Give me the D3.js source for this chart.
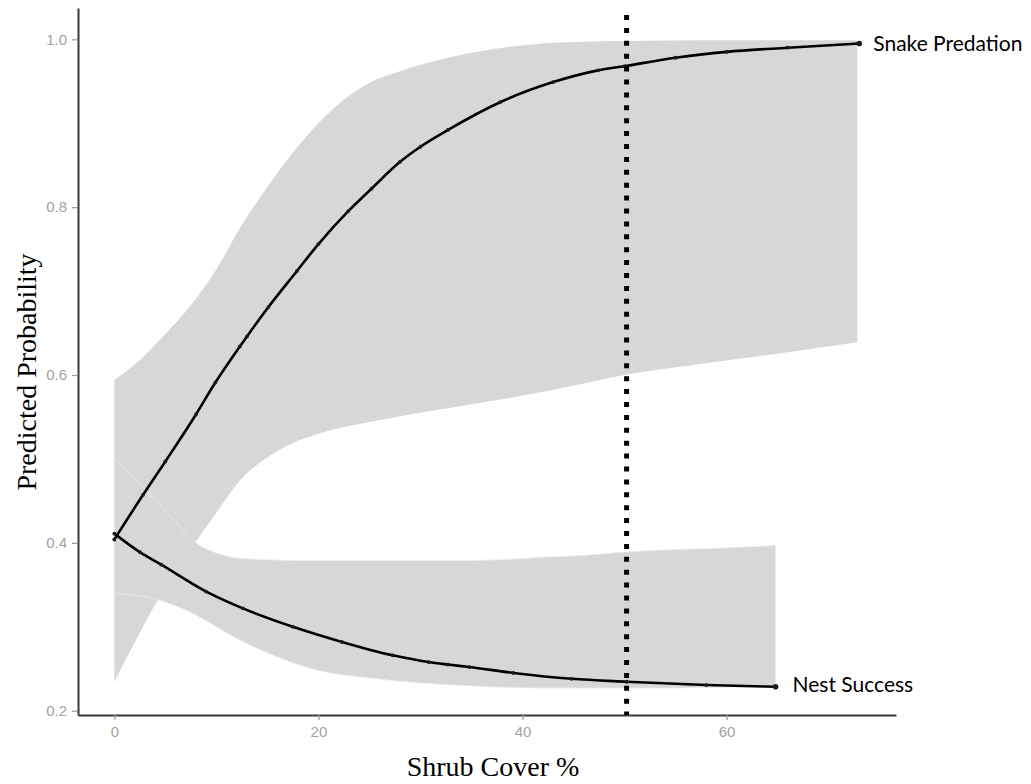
<!DOCTYPE html>
<html>
<head>
<meta charset="utf-8">
<script src="https://cdn.jsdelivr.net/npm/d3@7"></script>
<style>
  html, body { margin: 0; padding: 0; background: #fff; }
  svg { display: block; }
</style>
</head>
<body>
<svg id="chart" width="1031" height="784"></svg>
<script>
// Predicted probability of snake predation and nest success vs. shrub cover

// Snake predation: fitted curve
const snakeCover = [0, 2.8, 5.0, 8.0, 9.9, 12.3, 13.0, 15.1, 17.9, 20.0, 22.9, 25.2, 28.0, 30.0, 32.7, 37.8, 43.0, 47.4, 50.0, 55.0, 60.0, 66.0, 73.0];
const snakeProb  = [0.404, 0.457, 0.497, 0.553, 0.591, 0.634, 0.646, 0.681, 0.724, 0.756, 0.795, 0.822, 0.854, 0.872, 0.892, 0.925, 0.949, 0.963, 0.968, 0.978, 0.985, 0.990, 0.995];

// Snake predation: confidence band
const snakeBandCover = [0, 2.5, 5, 7.5, 10, 12.5, 15, 17.5, 20, 22.5, 25, 28, 33, 38, 42, 46, 50, 58, 66, 72.8];
const snakeLower = [0.234, 0.293, 0.347, 0.393, 0.436, 0.477, 0.502, 0.519, 0.530, 0.538, 0.544, 0.551, 0.561, 0.571, 0.580, 0.590, 0.600, 0.614, 0.627, 0.639];
const snakeUpper = [0.594, 0.618, 0.649, 0.683, 0.726, 0.779, 0.824, 0.865, 0.900, 0.928, 0.948, 0.962, 0.979, 0.990, 0.995, 0.997, 0.998, 0.999, 0.999, 0.999];

// Nest success: fitted curve
const nestCover = [0, 2.5, 4.6, 9.0, 12.6, 17.5, 22.3, 27.3, 30.8, 32.7, 34.8, 39.1, 44.8, 50.2, 58.0, 64.8];
const nestProb  = [0.411, 0.389, 0.374, 0.342, 0.322, 0.300, 0.282, 0.266, 0.258, 0.255, 0.252, 0.245, 0.238, 0.2345, 0.2306, 0.2285];

// Nest success: confidence band
const nestBandCover = [0, 2, 4, 6, 8, 10, 12, 15, 18, 20, 25, 30, 33, 38, 42, 46, 50, 55, 60, 64.8];
const nestLower = [0.340, 0.338, 0.333, 0.325, 0.314, 0.300, 0.286, 0.269, 0.255, 0.248, 0.239, 0.233, 0.231, 0.228, 0.227, 0.227, 0.227, 0.227, 0.228, 0.229];
const nestUpper = [0.501, 0.476, 0.451, 0.425, 0.400, 0.388, 0.382, 0.380, 0.379, 0.379, 0.379, 0.379, 0.379, 0.380, 0.383, 0.385, 0.389, 0.392, 0.394, 0.397];

// Threshold of shrub cover
const thresholdCover = 50.2;

// Axis ticks and labels
const xTicks = [0, 20, 40, 60];
const yTicks = [0.2, 0.4, 0.6, 0.8, 1.0];
const xTitle = "Shrub Cover %";
const yTitle = "Predicted Probability";
const snakeLabel = "Snake Predation";
const nestLabel = "Nest Success";

const svg = d3.select("#chart");

const x = d3.scaleLinear().domain([-3.56, 76.6]).range([78, 896]);
const y = d3.scaleLinear().domain([0.1949, 1.0373]).range([715, 8]);

const bandFill = "#d7d7d7";

function band(cover, lo, hi) {
  return cover.map((c, i) => ({ c, lo: lo[i], hi: hi[i] }));
}
const area = d3.area()
  .x(d => x(d.c))
  .y0(d => y(d.lo))
  .y1(d => y(d.hi))
  .curve(d3.curveMonotoneX);

// Confidence bands (nest band sits above the snake band)
svg.append("path")
  .datum(band(snakeBandCover, snakeLower, snakeUpper))
  .attr("d", area)
  .attr("fill", bandFill);

svg.append("path")
  .datum(band(nestBandCover, nestLower, nestUpper))
  .attr("d", area)
  .attr("fill", bandFill)
  .attr("stroke", "#ececec")
  .attr("stroke-width", 0.8);

// Axes
const xAxis = svg.append("g")
  .attr("transform", `translate(0,${y.range()[0]})`)
  .call(d3.axisBottom(x).tickValues(xTicks).tickFormat(d3.format("d")).tickSize(5).tickSizeOuter(0).tickPadding(6));
const yAxis = svg.append("g")
  .attr("transform", `translate(${x.range()[0]},0)`)
  .call(d3.axisLeft(y).tickValues(yTicks).tickFormat(d3.format(".1f")).tickSize(6).tickSizeOuter(0).tickPadding(5));

[xAxis, yAxis].forEach(g => {
  g.select(".domain").attr("stroke", "#3a3a3a").attr("stroke-width", 2);
  g.selectAll(".tick line").attr("stroke", "#9a9a9a").attr("stroke-width", 1.2);
  g.selectAll(".tick text")
    .attr("fill", "#a3a3a3")
    .style("font-family", "'Liberation Sans', Arial, sans-serif")
    .style("font-size", "15px");
});

// Fitted curves
const line = d3.line().x(d => x(d[0])).y(d => y(d[1])).curve(d3.curveMonotoneX);
const snakePts = snakeCover.map((c, i) => [c, snakeProb[i]]);
const nestPts = nestCover.map((c, i) => [c, nestProb[i]]);

[snakePts, nestPts].forEach(pts => {
  svg.append("path")
    .datum(pts)
    .attr("d", line)
    .attr("fill", "none")
    .attr("stroke", "#000")
    .attr("stroke-width", 2.6)
    .attr("stroke-linejoin", "round");
  svg.append("g").selectAll("circle")
    .data(pts)
    .join("circle")
    .attr("cx", d => x(d[0]))
    .attr("cy", d => y(d[1]))
    .attr("r", (d, i) => i === pts.length - 1 ? 2.8 : 1.9)
    .attr("fill", "#1a1a1a");
});

// Threshold line
svg.append("line")
  .attr("x1", x(thresholdCover)).attr("x2", x(thresholdCover))
  .attr("y1", y.range()[1] + 7).attr("y2", y.range()[0])
  .attr("stroke", "#000")
  .attr("stroke-width", 5)
  .attr("stroke-dasharray", "5 7.9");

// End-of-curve labels
const labelFont = "Lato, 'Open Sans', sans-serif";
svg.append("text")
  .attr("x", x(snakeCover[snakeCover.length - 1]) + 14)
  .attr("y", y(snakeProb[snakeProb.length - 1]) + 7)
  .style("font-family", labelFont).style("font-size", "21px")
  .attr("fill", "#000")
  .text(snakeLabel);
svg.append("text")
  .attr("x", x(nestCover[nestCover.length - 1]) + 17)
  .attr("y", y(nestProb[nestProb.length - 1]) + 5)
  .style("font-family", labelFont).style("font-size", "21px")
  .attr("fill", "#000")
  .text(nestLabel);

// Axis titles
svg.append("text")
  .attr("x", 493).attr("y", 776)
  .attr("text-anchor", "middle")
  .style("font-family", "'Liberation Serif', 'Times New Roman', serif")
  .style("font-size", "28px")
  .attr("fill", "#000")
  .text(xTitle);
svg.append("text")
  .attr("transform", "translate(36,372) rotate(-90)")
  .attr("text-anchor", "middle")
  .style("font-family", "'Liberation Serif', 'Times New Roman', serif")
  .style("font-size", "28px")
  .attr("fill", "#000")
  .text(yTitle);
</script>
</body>
</html>
